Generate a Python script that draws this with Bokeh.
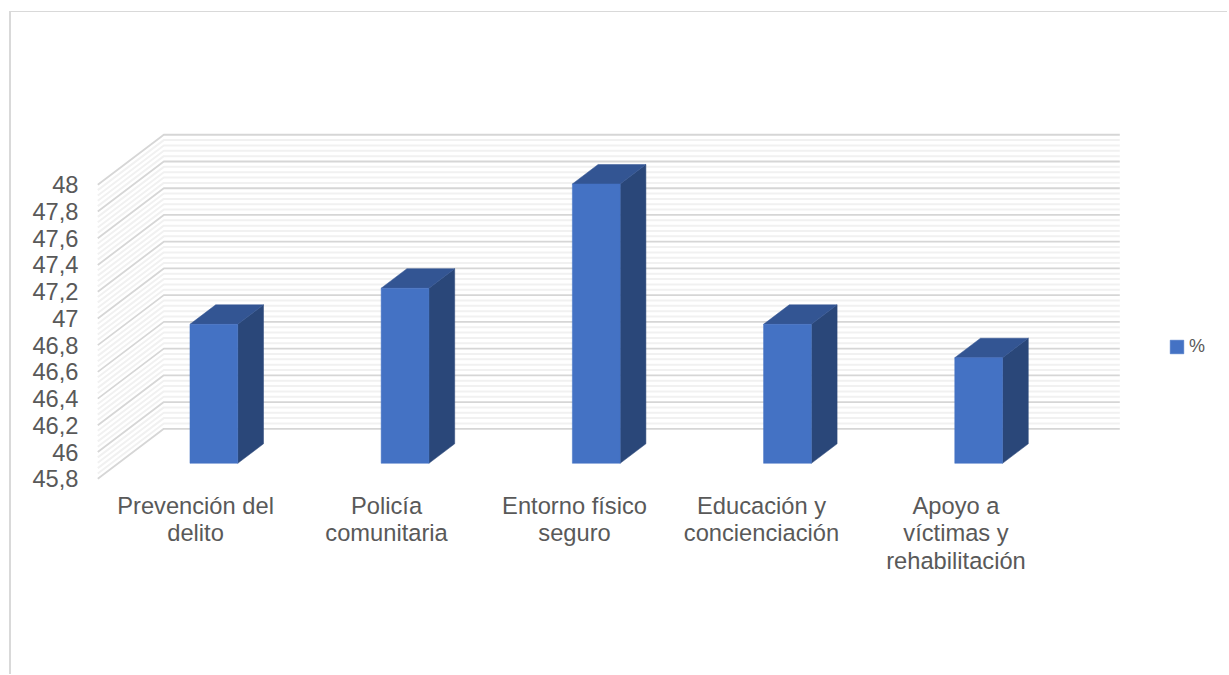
from bokeh.embed import file_html
from bokeh.resources import INLINE
from bokeh.core.properties import value
from bokeh.models import ColumnDataSource, FixedTicker, Legend, LegendItem, Range1d
from bokeh.plotting import figure

# Chart data
categories = ["Prevención del delito", "Policía comunitaria", "Entorno físico seguro",
              "Educación y concienciación", "Apoyo a víctimas y rehabilitación"]
percent = [46.84, 47.11, 47.89, 46.84, 46.59]
y_ticks = [45.8, 46, 46.2, 46.4, 46.6, 46.8, 47, 47.2, 47.4, 47.6, 47.8, 48]
y_tick_labels = ["45,8", "46", "46,2", "46,4", "46,6", "46,8", "47", "47,2", "47,4", "47,6", "47,8", "48"]
series_name = "%"

# Category labels, one entry per printed line: text, category index, row
label_lines = ["Prevención del", "delito", "Policía", "comunitaria", "Entorno físico", "seguro",
               "Educación y", "concienciación", "Apoyo a", "víctimas y", "rehabilitación"]
label_index = [0, 0, 1, 1, 2, 2, 3, 3, 4, 4, 4]
label_row = [0, 1, 0, 1, 0, 1, 0, 1, 0, 1, 2]
# Horizontal correction of each category's label block, in category units
label_nudge = [0.004, 0.003, -0.014, -0.036, -0.019]

# Oblique projection: scale of the front plane and the shift at full depth
PX_PER_CAT = 191.2
PX_PER_VAL = 133.65
DEPTH_X = 66 / PX_PER_CAT
DEPTH_Y = 50 / PX_PER_VAL
BAR_DEPTH_START = 0.31
BAR_DEPTH_END = 0.70
BAR_HALF = 0.125
X_MIN, X_MAX = -0.5, 4.5
Y_MIN = y_ticks[0]
Y_TOP = y_ticks[-1]

FRAME_LEFT, FRAME_TOP, PAGE_W, PAGE_H = 89, 12, 1229, 675
ORIGIN_X, ORIGIN_Y = 97.3, 478.3
TEXT_SIZE = "23.7px"
TEXT_COLOR = "#595959"


def project(x, y, d):
    return x + DEPTH_X * d, y + DEPTH_Y * d


p = figure(
    width=PAGE_W - 11, height=PAGE_H - FRAME_TOP,
    output_backend="svg", toolbar_location=None,
    x_range=Range1d(X_MIN - (ORIGIN_X - FRAME_LEFT) / PX_PER_CAT,
                    X_MIN + (PAGE_W - ORIGIN_X) / PX_PER_CAT),
    y_range=Range1d(Y_MIN - (PAGE_H - ORIGIN_Y) / PX_PER_VAL,
                    Y_MIN + (ORIGIN_Y - FRAME_TOP) / PX_PER_VAL),
    min_border_left=FRAME_LEFT - 11, min_border_right=0, min_border_top=0, min_border_bottom=0,
    outline_line_color=None, background_fill_color="white", border_fill_color="white",
)
p.margin = (11, 0, 0, 9)
p.styles = {"border-top": "1px solid #d9d9d9", "border-left": "2px solid #d9d9d9"}
p.grid.visible = False
p.xaxis.visible = False

yaxis = p.yaxis[0]
yaxis.ticker = FixedTicker(ticks=y_ticks)
yaxis.major_label_overrides = dict(zip(y_ticks, y_tick_labels))
yaxis.major_label_text_font = "Liberation Sans"
yaxis.major_label_text_font_size = TEXT_SIZE
yaxis.major_label_text_color = TEXT_COLOR
yaxis.major_label_standoff = 5
yaxis.axis_line_color = None
yaxis.major_tick_line_color = None
yaxis.minor_tick_line_color = None

# Side and back walls: minor lines every 0.04, majors on every tick
minor_step = 0.04
n_minor = round((Y_TOP - Y_MIN) / minor_step)
minor_vals = [Y_MIN + minor_step * i for i in range(n_minor + 1) if i % 5 != 0]


def wall_path(v):
    x0, y0 = project(X_MIN, v, 0)
    x1, y1 = project(X_MIN, v, 1)
    x2, y2 = project(X_MAX, v, 1)
    return [x0, x1, x2], [y0, y1, y2]


minor_paths = [wall_path(v) for v in minor_vals]
major_paths = [wall_path(v) for v in y_ticks]
p.multi_line([m[0] for m in minor_paths], [m[1] for m in minor_paths],
             line_color="#f1f1f1", line_width=2)
p.multi_line([m[0] for m in major_paths], [m[1] for m in major_paths],
             line_color="#d6d6d6", line_width=1.8)

# Bars as three visible faces
front_xs, front_ys, top_xs, top_ys, side_xs, side_ys = [], [], [], [], [], []
for i, v in enumerate(percent):
    l, r = i - BAR_HALF, i + BAR_HALF
    d0, d1 = BAR_DEPTH_START, BAR_DEPTH_END
    corners = [project(l, Y_MIN, d0), project(r, Y_MIN, d0), project(r, v, d0), project(l, v, d0)]
    front_xs.append([c[0] for c in corners])
    front_ys.append([c[1] for c in corners])
    corners = [project(l, v, d0), project(r, v, d0), project(r, v, d1), project(l, v, d1)]
    top_xs.append([c[0] for c in corners])
    top_ys.append([c[1] for c in corners])
    corners = [project(r, Y_MIN, d0), project(r, Y_MIN, d1), project(r, v, d1), project(r, v, d0)]
    side_xs.append([c[0] for c in corners])
    side_ys.append([c[1] for c in corners])

p.patches(side_xs, side_ys, fill_color="#2a4779", line_color="#2a4779", line_width=0.5)
p.patches(top_xs, top_ys, fill_color="#335593", line_color="#335593", line_width=0.5)
front = p.patches(front_xs, front_ys, fill_color="#4472c4", line_color="#4472c4", line_width=0.5)

# Category labels under the axis
FIRST_ROW_PX = 505
ROW_PX = 27.8
labels = ColumnDataSource(dict(
    x=[i + label_nudge[i] + 1.4 / PX_PER_CAT for i in label_index],
    y=[Y_MIN - (FIRST_ROW_PX + r * ROW_PX - ORIGIN_Y) / PX_PER_VAL for r in label_row],
    text=label_lines,
))
p.text(x="x", y="y", text="text", source=labels,
       text_font=value("Liberation Sans"), text_font_size=TEXT_SIZE,
       text_color=TEXT_COLOR, text_align="center", text_baseline="middle")

legend = Legend(
    items=[LegendItem(label=series_name, renderers=[front])],
    location=(1168 - FRAME_LEFT, 318),
    glyph_width=17, glyph_height=17, label_standoff=4, padding=0, margin=0,
    label_text_font="Liberation Sans", label_text_font_size="18px", label_text_color=TEXT_COLOR,
    border_line_color=None, background_fill_alpha=0,
)
p.add_layout(legend)

open("out.html", "w").write(file_html(p, INLINE))
